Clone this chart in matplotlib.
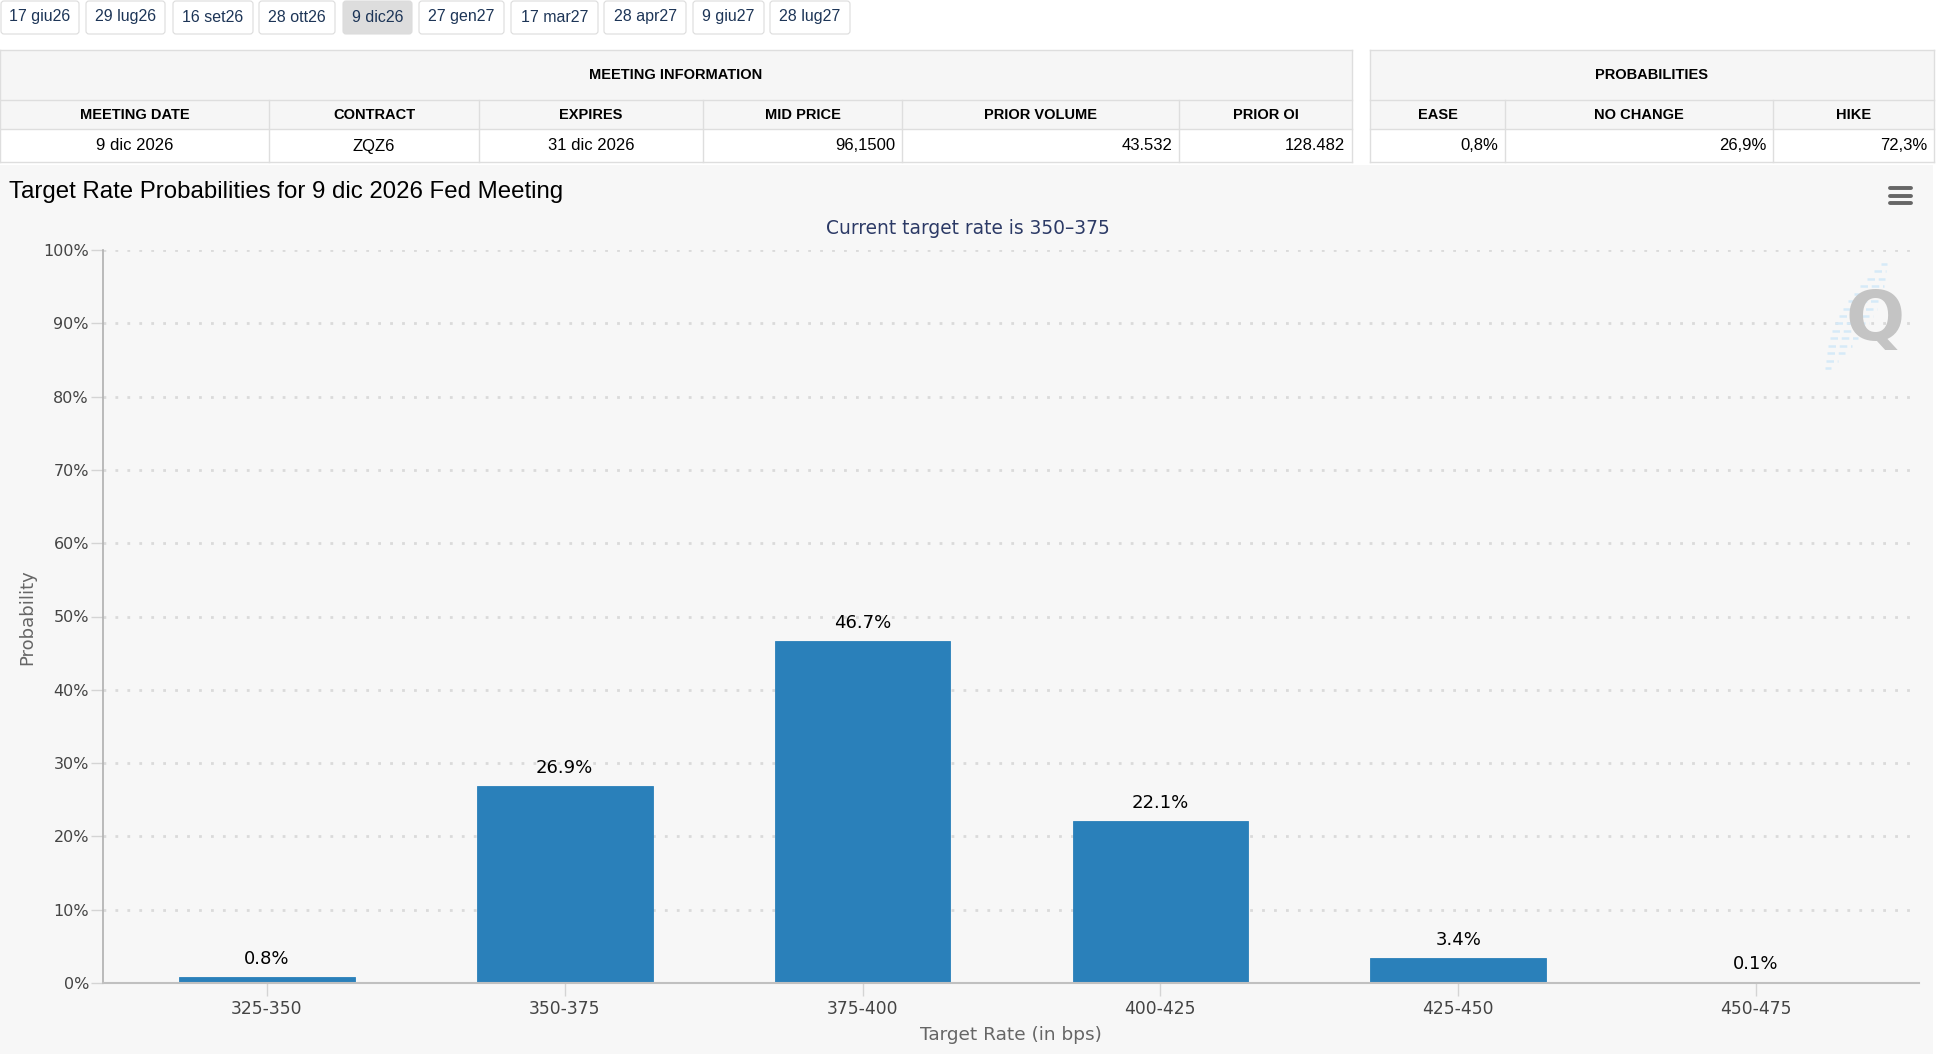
import numpy as np
import matplotlib.pyplot as plt
from matplotlib.patches import Rectangle, FancyBboxPatch
from matplotlib.lines import Line2D
from matplotlib.transforms import IdentityTransform

W, H = 1946, 1054

# --- data ---
meeting_dates = ['17 giu26', '29 lug26', '16 set26', '28 ott26', '9 dic26',
                 '27 gen27', '17 mar27', '28 apr27', '9 giu27', '28 lug27']
selected_meeting = '9 dic26'

info_headers = ['MEETING DATE', 'CONTRACT', 'EXPIRES', 'MID PRICE', 'PRIOR VOLUME', 'PRIOR OI']
info_values = ['9 dic 2026', 'ZQZ6', '31 dic 2026', '96,1500', '43.532', '128.482']
prob_headers = ['EASE', 'NO CHANGE', 'HIKE']
prob_values = ['0,8%', '26,9%', '72,3%']

rate_bins = ['325-350', '350-375', '375-400', '400-425', '425-450', '450-475']
probabilities = [0.8, 26.9, 46.7, 22.1, 3.4, 0.1]
current_target = '350–375'
meeting_label = '9 dic 2026'

# --- layout (pixels, top-left origin) ---
button_edges = [(0, 80), (85, 166), (172, 254), (258, 336), (342, 413),
                (418, 505), (510, 599), (603, 687), (692, 765), (769, 851)]
info_cols = [0, 269, 479, 703, 902, 1179, 1352]
info_align = ['center', 'center', 'center', 'right', 'right', 'right']
prob_cols = [1370, 1505, 1773, 1934]

SANS = ['Liberation Sans', 'DejaVu Sans']
CHART_FONT = ['DejaVu Sans']
PX = IdentityTransform()

fig = plt.figure(figsize=(W / 100, H / 100), dpi=100)
fig.patch.set_facecolor('white')


def rect(x0, y0, x1, y1, fc, ec='none', lw=1.0, z=0):
    fig.add_artist(Rectangle((x0, H - y1), x1 - x0, y1 - y0, transform=PX,
                             facecolor=fc, edgecolor=ec, linewidth=lw, zorder=z))


def text(x, y, s, **kw):
    kw.setdefault('family', SANS)
    fig.text(x, H - y, s, transform=PX, **kw)


def hline(x0, x1, y, color='#dedede', lw=1.0):
    fig.add_artist(Line2D([x0, x1], [H - y, H - y], transform=PX, color=color, linewidth=lw))


def vline(x, y0, y1, color='#dedede', lw=1.0):
    fig.add_artist(Line2D([x, x], [H - y0, H - y1], transform=PX, color=color, linewidth=lw))


# meeting buttons
for (x0, x1), lab in zip(button_edges, meeting_dates):
    fc = '#dddddd' if lab == selected_meeting else 'white'
    fig.add_artist(FancyBboxPatch((x0 + 1, H - 34), x1 - x0 - 2, 33, transform=PX,
                                  boxstyle='round,pad=0,rounding_size=3',
                                  facecolor=fc, edgecolor='#dcdcdc', linewidth=0.8))
    text((x0 + x1) / 2, 17, lab, ha='center', va='center', fontsize=11.5, color='#1d3557')


# tables
def draw_table(cols, title, headers, values, aligns):
    x0, x1 = cols[0], cols[-1]
    rect(x0, 50, x1, 129, '#f6f6f6')
    rect(x0, 129, x1, 162, 'white')
    for y in (50, 100, 129, 162):
        hline(x0, x1, y)
    vline(x0, 50, 162)
    vline(x1, 50, 162)
    for c in cols[1:-1]:
        vline(c, 100, 162)
    text((x0 + x1) / 2, 75, title, ha='center', va='center', fontsize=10.5,
         fontweight='bold', color='black')
    for i, (h, v, a) in enumerate(zip(headers, values, aligns)):
        l, r = cols[i], cols[i + 1]
        text((l + r) / 2, 115, h, ha='center', va='center', fontsize=10.5,
             fontweight='bold', color='black')
        if a == 'center':
            text((l + r) / 2, 146, v, ha='center', va='center', fontsize=12, color='black')
        else:
            text(r - 7, 146, v, ha='right', va='center', fontsize=12, color='black')


draw_table(info_cols, 'MEETING INFORMATION', info_headers, info_values, info_align)
draw_table(prob_cols, 'PROBABILITIES', prob_headers, prob_values, ['right'] * 3)

# chart background
rect(0, 165, 1933, H, '#f7f7f7', z=-1)

# title / subtitle
text(9, 192, f'Target Rate Probabilities for {meeting_label} Fed Meeting',
     ha='left', va='center', fontsize=17.3, color='black')
text(968, 228, f'Current target rate is {current_target}', ha='center', va='center',
     fontsize=13.4, color='#2c3a66', family=CHART_FONT)

# menu icon
for y in (188, 196, 203):
    fig.add_artist(Line2D([1890, 1911], [H - y, H - y], transform=PX, color='#666666',
                          linewidth=2.8, solid_capstyle='round'))

# watermark logo
for k in range(15):
    t = k / 14
    cx = 1884 - 56 * t
    cy = 264 + 104 * t
    half = 3 + 14 * np.sin(np.pi * t)
    fig.add_artist(Line2D([cx - half, cx + half], [H - cy, H - cy], transform=PX,
                          color='#d6eaf8', linewidth=1.8, dashes=(3, 1.5)))
text(1875, 321, 'Q', ha='center', va='center', fontsize=50, fontweight='bold',
     color='#c4c4c4', family=CHART_FONT)

# --- chart ---
ax = fig.add_axes([103 / W, 1 - 983 / H, (1919 - 103) / W, (983 - 250) / H])
ax.set_facecolor('none')
x = np.arange(len(rate_bins))
bars = ax.bar(x, probabilities, width=0.59, color='#2a80ba', edgecolor='#2a80ba',
              linewidth=0.6, zorder=3)
for i, v in enumerate(probabilities):
    ax.annotate(f'{v}%', (i, v), xytext=(0, 6.5), textcoords='offset points',
                ha='center', va='bottom', fontsize=13, color='black', family=CHART_FONT)

ax.set_xlim(-0.55, 5.547)
ax.set_ylim(0, 100)
ax.set_xticks(x)
ax.set_xticklabels(rate_bins, family=CHART_FONT)
ax.set_yticks(np.arange(0, 101, 10))
ax.set_yticklabels([f'{v}%' for v in range(0, 101, 10)], family=CHART_FONT)
ax.grid(axis='y', color='#dadada', linestyle=(0, (1, 3.3)), linewidth=2, zorder=0)
ax.set_axisbelow(True)
for s in ('top', 'right'):
    ax.spines[s].set_visible(False)
ax.spines['left'].set_color('#b0b0b0')
ax.spines['left'].set_linewidth(1.2)
ax.spines['bottom'].set_color('#c0c0c0')
ax.spines['bottom'].set_linewidth(1.5)
ax.spines['bottom'].set_zorder(4)
ax.tick_params(axis='y', length=8.6, width=1, color='#d4d4d4', pad=1.5,
               labelsize=11.5, labelcolor='#444444')
ax.tick_params(axis='x', length=9.5, width=1, color='#d4d4d4', pad=3,
               labelsize=12.3, labelcolor='#444444')

text(27, 617, 'Probability', rotation=90, ha='center', va='center', fontsize=13,
     color='#666666', family=CHART_FONT)
text(1011, 1035, 'Target Rate (in bps)', ha='center', va='center', fontsize=13.3,
     color='#666666', family=CHART_FONT)

fig.savefig('out.png', dpi=100)
